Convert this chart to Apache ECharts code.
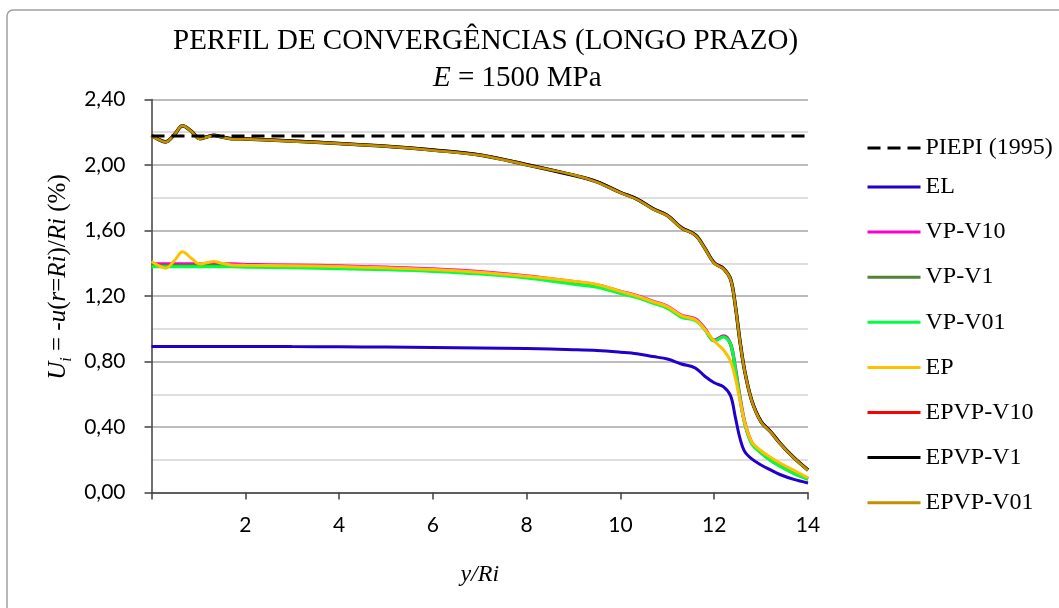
<!DOCTYPE html>
<html>
<head>
<meta charset="utf-8">
<script src="https://cdn.jsdelivr.net/npm/echarts@6/dist/echarts.min.js"></script>
<style>
html,body{margin:0;padding:0;background:#fff;}
#c{width:1059px;height:608px;}
</style>
</head>
<body>
<div id="c"></div>
<script>
// ---- data ----
const yRi = [0, 0.15, 0.3, 0.5, 0.66, 0.85, 1.03, 1.2, 1.33, 1.5, 1.7, 2, 3, 4, 5, 6, 7, 8, 9, 9.5, 10, 10.35, 10.7, 11, 11.3, 11.6, 11.8, 12, 12.2, 12.35, 12.45, 12.55, 12.65, 12.8, 13, 13.2, 13.4, 13.7, 14];
const piepiX = [0, 14];
const piepiY = [2.177, 2.177];
const EL = [0.892, 0.892, 0.892, 0.892, 0.892, 0.892, 0.892, 0.892, 0.892, 0.892, 0.892, 0.892, 0.891, 0.89, 0.888, 0.886, 0.883, 0.879, 0.872, 0.867, 0.857, 0.848, 0.83, 0.815, 0.785, 0.76, 0.71, 0.67, 0.645, 0.59, 0.46, 0.33, 0.25, 0.205, 0.168, 0.138, 0.11, 0.08, 0.058];
const VP_V10 = [1.395, 1.395, 1.395, 1.395, 1.395, 1.395, 1.395, 1.395, 1.395, 1.395, 1.395, 1.392, 1.388, 1.383, 1.375, 1.365, 1.348, 1.322, 1.287, 1.267, 1.228, 1.202, 1.167, 1.137, 1.082, 1.06, 1.0, 0.93, 0.955, 0.905, 0.76, 0.58, 0.43, 0.305, 0.245, 0.2, 0.165, 0.12, 0.085];
const VP_V1 = [1.386, 1.386, 1.386, 1.386, 1.386, 1.386, 1.386, 1.386, 1.386, 1.386, 1.386, 1.384, 1.38, 1.375, 1.367, 1.357, 1.341, 1.316, 1.279, 1.26, 1.221, 1.196, 1.161, 1.131, 1.076, 1.055, 0.997, 0.927, 0.952, 0.905, 0.755, 0.575, 0.425, 0.3, 0.242, 0.197, 0.162, 0.117, 0.082];
const VP_V01 = [1.378, 1.378, 1.378, 1.378, 1.378, 1.378, 1.378, 1.378, 1.378, 1.378, 1.378, 1.376, 1.372, 1.367, 1.36, 1.35, 1.334, 1.31, 1.272, 1.253, 1.215, 1.19, 1.155, 1.125, 1.07, 1.05, 0.993, 0.925, 0.95, 0.903, 0.752, 0.572, 0.422, 0.297, 0.24, 0.195, 0.16, 0.115, 0.08];
const EP = [1.41, 1.385, 1.37, 1.42, 1.47, 1.43, 1.395, 1.405, 1.41, 1.40, 1.39, 1.388, 1.385, 1.38, 1.372, 1.362, 1.345, 1.32, 1.29, 1.27, 1.228, 1.20, 1.165, 1.135, 1.08, 1.055, 0.995, 0.925, 0.87, 0.80, 0.70, 0.56, 0.43, 0.31, 0.255, 0.215, 0.18, 0.135, 0.09];
const EPVP_V10 = [2.182, 2.157, 2.142, 2.19, 2.24, 2.207, 2.162, 2.174, 2.182, 2.172, 2.162, 2.16, 2.147, 2.132, 2.115, 2.092, 2.062, 2.003, 1.938, 1.898, 1.833, 1.793, 1.733, 1.693, 1.618, 1.573, 1.493, 1.403, 1.368, 1.303, 1.143, 0.923, 0.743, 0.563, 0.433, 0.373, 0.303, 0.213, 0.138];
const EPVP_V1 = [2.181, 2.156, 2.141, 2.19, 2.24, 2.206, 2.161, 2.173, 2.181, 2.171, 2.161, 2.159, 2.146, 2.131, 2.114, 2.091, 2.061, 2.002, 1.937, 1.897, 1.832, 1.792, 1.732, 1.692, 1.617, 1.572, 1.492, 1.402, 1.367, 1.302, 1.142, 0.922, 0.742, 0.562, 0.432, 0.372, 0.302, 0.212, 0.137];
const EPVP_V01 = [2.18, 2.155, 2.14, 2.19, 2.24, 2.205, 2.16, 2.172, 2.18, 2.17, 2.16, 2.158, 2.145, 2.13, 2.113, 2.09, 2.06, 2.0, 1.94, 1.895, 1.83, 1.79, 1.73, 1.69, 1.615, 1.57, 1.49, 1.40, 1.365, 1.30, 1.14, 0.92, 0.74, 0.56, 0.43, 0.37, 0.30, 0.21, 0.135];
const xTicks = [0, 2, 4, 6, 8, 10, 12, 14];
const yTicks = [0, 0.4, 0.8, 1.2, 1.6, 2.0, 2.4];

const titleLine1 = 'PERFIL DE CONVERGÊNCIAS (LONGO PRAZO)';
const legendNames = ['PIEPI (1995)', 'EL', 'VP-V10', 'VP-V1', 'VP-V01', 'EP', 'EPVP-V10', 'EPVP-V1', 'EPVP-V01'];

// ---- build ----
const pair = (xs, ys) => xs.map((x, i) => [x, ys[i]]);
const serif = '"Liberation Serif", "Times New Roman", serif';
const mkLine = (name, ys, color, width, z) => ({
  name, type: 'line', data: pair(yRi, ys), symbol: 'none', smooth: 0.35,
  lineStyle: { color, width }, itemStyle: { color }, z: z || 2
});

const legendText = { fontFamily: serif, fontSize: 24, lineHeight: 24, color: '#000' };
const legendBase = { orient: 'vertical', left: 861, itemWidth: 53, itemHeight: 14, selectedMode: false,
  textStyle: legendText, itemStyle: { opacity: 0 }, lineStyle: { width: 3 } };
const chart = echarts.init(document.getElementById('c'), null, { renderer: 'canvas' });
chart.setOption({
  animation: false,
  backgroundColor: '#fff',
  grid: { left: 151.5, right: 251, top: 99.5, bottom: 115.5, containLabel: false },
  xAxis: {
    type: 'value', min: xTicks[0], max: xTicks[xTicks.length - 1], interval: 2,
    name: 'y/Ri', nameLocation: 'middle', nameGap: 70,
    nameTextStyle: { fontFamily: serif, fontStyle: 'italic', fontSize: 24, color: '#000' },
    axisLine: { lineStyle: { color: '#404040', width: 1.5 } },
    axisTick: { show: true, inside: false, length: 7, lineStyle: { color: '#404040', width: 1.5 } },
    axisLabel: { margin: 22, fontFamily: 'Lato', fontSize: 21, color: '#000',
      formatter: v => (v === 0 ? '' : String(v)) },
    splitLine: { show: false }
  },
  yAxis: {
    type: 'value', min: yTicks[0], max: yTicks[yTicks.length - 1], interval: 0.4,
    axisLine: { show: true, lineStyle: { color: '#404040', width: 1.5 } },
    axisTick: { show: true, inside: false, length: 7, lineStyle: { color: '#404040', width: 1.5 } },
    axisLabel: { margin: 26, fontFamily: 'Lato', fontSize: 21, color: '#000',
      formatter: v => v.toFixed(2).replace('.', ',') },
    splitLine: { show: true, lineStyle: { color: '#A6A6A6', width: 1.5 } },
    minorTick: { show: false, splitNumber: 2 },
    minorSplitLine: { show: true, lineStyle: { color: '#D4D4D4', width: 1.5 } }
  },
  legend: [
    Object.assign({}, legendBase, { data: [legendNames[0]], top: 131, itemGap: 21 }),
    Object.assign({}, legendBase, { data: legendNames.slice(1), top: 170, itemGap: 21.1 })
  ],
  graphic: [
    { type: 'rect', shape: { x: 7, y: 10, width: 1060, height: 620, r: 6 }, silent: true, z: -10,
      style: { fill: 'none', stroke: '#A0A0A0', lineWidth: 1.5 } },
    { type: 'text', x: 173, y: 41, silent: true,
      style: { text: titleLine1, font: '29px ' + serif, fill: '#000', align: 'left', verticalAlign: 'middle' } },
    { type: 'text', x: 433, y: 78, silent: true,
      style: { text: '{i|E} = 1500 MPa', font: '29px ' + serif, fill: '#000', align: 'left', verticalAlign: 'middle',
        rich: { i: { fontFamily: serif, fontStyle: 'italic', fontSize: 29, fill: '#000' } } } },
    { type: 'text', x: 58, y: 277, rotation: Math.PI / 2, silent: true,
      style: {
        text: '{it|U}{sub|i}{n| = -}{it|u}{n|(}{it|r}{n|=}{it|Ri}{n|)/}{it|Ri}{n| (%)}',
        align: 'center', verticalAlign: 'middle', fill: '#000',
        rich: {
          it: { fontFamily: serif, fontStyle: 'italic', fontSize: 25, lineHeight: 34, fill: '#000' },
          n: { fontFamily: serif, fontSize: 25, lineHeight: 34, fill: '#000' },
          sub: { fontFamily: serif, fontStyle: 'italic', fontSize: 16, lineHeight: 16, verticalAlign: 'bottom', fill: '#000' }
        }
      } }
  ],
  series: [
    { name: legendNames[0], type: 'line', data: pair(piepiX, piepiY), symbol: 'none', z: 5,
      lineStyle: { color: '#000', width: 3, type: [13, 7] }, itemStyle: { color: '#000' } },
    mkLine('EL', EL, '#2200CC', 3),
    mkLine('VP-V10', VP_V10, '#FF00CC', 3.5),
    mkLine('VP-V1', VP_V1, '#548235', 3),
    mkLine('VP-V01', VP_V01, '#00FF40', 3),
    mkLine('EP', EP, '#FFC000', 3),
    mkLine('EPVP-V10', EPVP_V10, '#FF0000', 3),
    mkLine('EPVP-V1', EPVP_V1, '#000000', 3.5),
    mkLine('EPVP-V01', EPVP_V01, '#BF9000', 2.75)
  ]
});
</script>
</body>
</html>
